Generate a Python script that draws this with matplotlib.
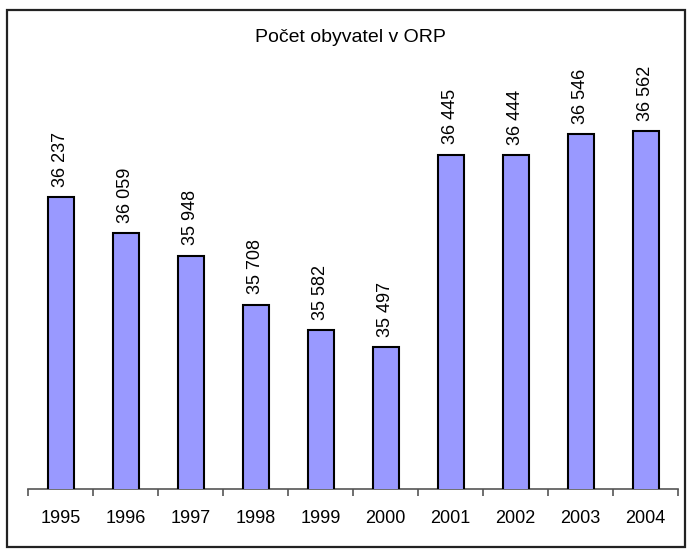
import matplotlib
matplotlib.use("Agg")
import matplotlib.pyplot as plt
from matplotlib.patches import Rectangle
import numpy as np

plt.rcParams["font.family"] = ["Liberation Sans", "DejaVu Sans"]

years = ["1995", "1996", "1997", "1998", "1999", "2000", "2001", "2002", "2003", "2004"]
population = [36237, 36059, 35948, 35708, 35582, 35497, 36445, 36444, 36546, 36562]

W, H = 689, 550
fig = plt.figure(figsize=(W / 100, H / 100), dpi=100)

# outer chart frame
fig.patches.append(Rectangle((7 / W, 3 / H), (685 - 7) / W, (547 - 10) / H,
                             transform=fig.transFigure, fill=False,
                             edgecolor="#222222", linewidth=1.6))

ax = fig.add_axes([28 / W, (H - 489) / H, (678 - 28) / W, (489 - 42) / H])
x = np.arange(len(years))
ax.bar(x, population, width=0.4, color="#9999FF", edgecolor="black", linewidth=1.5,
       zorder=3)
ax.set_ylim(34800, 37000)
ax.set_xlim(-0.5, len(years) - 0.5)

for xi, v in zip(x, population):
    label = f"{v:,}".replace(",", " ")
    ax.annotate(label, (xi, v), xytext=(0, 7.5), textcoords="offset points",
                rotation=90, ha="center", va="bottom", fontsize=13)

for side in ("top", "right", "left"):
    ax.spines[side].set_visible(False)
ax.spines["bottom"].set_color("#555555")
ax.spines["bottom"].set_linewidth(1.2)
ax.set_yticks([])
ax.set_xticks(np.arange(-0.5, len(years), 1.0))
ax.set_xticklabels([])
ax.set_xticks(x, minor=True)
ax.set_xticklabels(years, minor=True, fontsize=13)
ax.tick_params(axis="x", which="major", direction="out", length=5, width=1.2,
               color="#555555")
ax.tick_params(axis="x", which="minor", length=0, pad=15)

fig.text(350 / W, 1 - 37 / H, "Počet obyvatel v ORP", ha="center", va="center",
         fontsize=14)

fig.savefig("out.png", dpi=100)
